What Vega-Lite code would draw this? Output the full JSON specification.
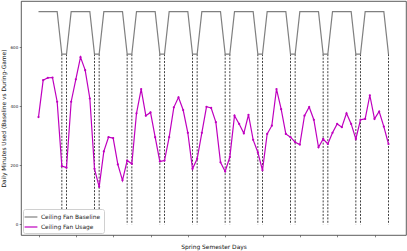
{
  "$schema": "https://vega.github.io/schema/vega-lite/v6.json",
  "width": 385,
  "height": 234,
  "autosize": {"type": "none"},
  "padding": {"left": 21, "top": 1, "right": 1, "bottom": 16},
  "config": {
    "font": "DejaVu Sans",
    "view": {"stroke": "#333", "strokeWidth": 0.8},
    "axis": {"domain": false, "grid": false, "tickColor": "#333", "tickSize": 1.8, "tickWidth": 0.6, "labelColor": "#222", "titleColor": "#111", "titleFontWeight": "normal", "labelOverlap": false}
  },
  "data": {"values": [
    {"day": 0, "baseline": 720, "usage": 363, "weekend": false},
    {"day": 1, "baseline": 720, "usage": 488, "weekend": false},
    {"day": 2, "baseline": 720, "usage": 496, "weekend": false},
    {"day": 3, "baseline": 720, "usage": 497, "weekend": false},
    {"day": 4, "baseline": 720, "usage": 415, "weekend": false},
    {"day": 5, "baseline": 576, "usage": 197, "weekend": true},
    {"day": 6, "baseline": 576, "usage": 192, "weekend": true},
    {"day": 7, "baseline": 720, "usage": 415, "weekend": false},
    {"day": 8, "baseline": 720, "usage": 491, "weekend": false},
    {"day": 9, "baseline": 720, "usage": 566, "weekend": false},
    {"day": 10, "baseline": 720, "usage": 522, "weekend": false},
    {"day": 11, "baseline": 720, "usage": 426, "weekend": false},
    {"day": 12, "baseline": 576, "usage": 188, "weekend": true},
    {"day": 13, "baseline": 576, "usage": 127, "weekend": true},
    {"day": 14, "baseline": 720, "usage": 247, "weekend": false},
    {"day": 15, "baseline": 720, "usage": 295, "weekend": false},
    {"day": 16, "baseline": 720, "usage": 292, "weekend": false},
    {"day": 17, "baseline": 720, "usage": 203, "weekend": false},
    {"day": 18, "baseline": 720, "usage": 149, "weekend": false},
    {"day": 19, "baseline": 576, "usage": 216, "weekend": true},
    {"day": 20, "baseline": 576, "usage": 205, "weekend": true},
    {"day": 21, "baseline": 720, "usage": 376, "weekend": false},
    {"day": 22, "baseline": 720, "usage": 458, "weekend": false},
    {"day": 23, "baseline": 720, "usage": 368, "weekend": false},
    {"day": 24, "baseline": 720, "usage": 379, "weekend": false},
    {"day": 25, "baseline": 720, "usage": 295, "weekend": false},
    {"day": 26, "baseline": 576, "usage": 213, "weekend": true},
    {"day": 27, "baseline": 576, "usage": 216, "weekend": true},
    {"day": 28, "baseline": 720, "usage": 295, "weekend": false},
    {"day": 29, "baseline": 720, "usage": 396, "weekend": false},
    {"day": 30, "baseline": 720, "usage": 430, "weekend": false},
    {"day": 31, "baseline": 720, "usage": 387, "weekend": false},
    {"day": 32, "baseline": 720, "usage": 310, "weekend": false},
    {"day": 33, "baseline": 576, "usage": 188, "weekend": true},
    {"day": 34, "baseline": 576, "usage": 222, "weekend": true},
    {"day": 35, "baseline": 720, "usage": 310, "weekend": false},
    {"day": 36, "baseline": 720, "usage": 398, "weekend": false},
    {"day": 37, "baseline": 720, "usage": 394, "weekend": false},
    {"day": 38, "baseline": 720, "usage": 346, "weekend": false},
    {"day": 39, "baseline": 720, "usage": 210, "weekend": false},
    {"day": 40, "baseline": 576, "usage": 179, "weekend": true},
    {"day": 41, "baseline": 576, "usage": 228, "weekend": true},
    {"day": 42, "baseline": 720, "usage": 368, "weekend": false},
    {"day": 43, "baseline": 720, "usage": 340, "weekend": false},
    {"day": 44, "baseline": 720, "usage": 308, "weekend": false},
    {"day": 45, "baseline": 720, "usage": 371, "weekend": false},
    {"day": 46, "baseline": 720, "usage": 286, "weekend": false},
    {"day": 47, "baseline": 576, "usage": 244, "weekend": true},
    {"day": 48, "baseline": 576, "usage": 183, "weekend": true},
    {"day": 49, "baseline": 720, "usage": 306, "weekend": false},
    {"day": 50, "baseline": 720, "usage": 334, "weekend": false},
    {"day": 51, "baseline": 720, "usage": 458, "weekend": false},
    {"day": 52, "baseline": 720, "usage": 390, "weekend": false},
    {"day": 53, "baseline": 720, "usage": 306, "weekend": false},
    {"day": 54, "baseline": 576, "usage": 295, "weekend": true},
    {"day": 55, "baseline": 576, "usage": 278, "weekend": true},
    {"day": 56, "baseline": 720, "usage": 270, "weekend": false},
    {"day": 57, "baseline": 720, "usage": 368, "weekend": false},
    {"day": 58, "baseline": 720, "usage": 397, "weekend": false},
    {"day": 59, "baseline": 720, "usage": 354, "weekend": false},
    {"day": 60, "baseline": 720, "usage": 261, "weekend": false},
    {"day": 61, "baseline": 576, "usage": 289, "weekend": true},
    {"day": 62, "baseline": 576, "usage": 272, "weekend": true},
    {"day": 63, "baseline": 720, "usage": 310, "weekend": false},
    {"day": 64, "baseline": 720, "usage": 340, "weekend": false},
    {"day": 65, "baseline": 720, "usage": 329, "weekend": false},
    {"day": 66, "baseline": 720, "usage": 376, "weekend": false},
    {"day": 67, "baseline": 720, "usage": 340, "weekend": false},
    {"day": 68, "baseline": 576, "usage": 289, "weekend": true},
    {"day": 69, "baseline": 576, "usage": 354, "weekend": true},
    {"day": 70, "baseline": 720, "usage": 357, "weekend": false},
    {"day": 71, "baseline": 720, "usage": 437, "weekend": false},
    {"day": 72, "baseline": 720, "usage": 357, "weekend": false},
    {"day": 73, "baseline": 720, "usage": 382, "weekend": false},
    {"day": 74, "baseline": 720, "usage": 331, "weekend": false},
    {"day": 75, "baseline": 576, "usage": 272, "weekend": true}
  ]},
  "layer": [
    {
      "transform": [{"filter": "datum.weekend"}],
      "mark": {"type": "rule", "color": "#111", "strokeWidth": 0.8, "strokeDash": [2, 1.4]},
      "encoding": {
        "x": {
          "field": "day", "type": "quantitative",
          "scale": {"domain": [-3.75, 78.75], "nice": false, "zero": false},
          "axis": {
            "title": "Spring Semester Days", "titleFontSize": 5.9, "titlePadding": 6,
            "labels": false,
            "values": [0,1,2,3,4,5,6,7,8,9,10,11,12,13,14,15,16,17,18,19,20,21,22,23,24,25,26,27,28,29,30,31,32,33,34,35,36,37,38,39,40,41,42,43,44,45,46,47,48,49,50,51,52,53,54,55,56,57,58,59,60,61,62,63,64,65,66,67,68,69,70,71,72,73,74,75]
          }
        },
        "y": {"field": "baseline", "type": "quantitative",
          "scale": {"domain": [-36, 756], "nice": false, "zero": false},
          "axis": {
            "title": "Daily Minutes Used (Baseline vs During-Game)", "titleFontSize": 5.9, "titlePadding": 4,
            "values": [0, 100, 200, 300, 400, 500, 600, 700], "labelFontSize": 4, "labelPadding": 1.5
          }
        },
        "y2": {"datum": 0}
      }
    },
    {
      "mark": {"type": "line", "strokeWidth": 1.2},
      "encoding": {
        "x": {"field": "day", "type": "quantitative"},
        "y": {"field": "baseline", "type": "quantitative"},
        "color": {
          "datum": "Ceiling Fan Baseline",
          "type": "nominal",
          "scale": {"domain": ["Ceiling Fan Baseline", "Ceiling Fan Usage"], "range": ["#808080", "#bf00bf"]},
          "legend": {
            "title": null, "orient": "bottom-left", "offset": 2,
            "symbolType": "M-1.6,0H1.6", "symbolSize": 64, "symbolStrokeWidth": 1.2,
            "labelFontSize": 5.9, "labelColor": "#222", "labelOffset": 5, "rowPadding": 2, "padding": 3,
            "fillColor": "white", "strokeColor": "#d0d0d0", "cornerRadius": 2
          }
        }
      }
    },
    {
      "mark": {"type": "line", "strokeWidth": 1.2, "point": {"filled": true, "size": 5}},
      "encoding": {
        "x": {"field": "day", "type": "quantitative"},
        "y": {"field": "usage", "type": "quantitative"},
        "color": {"datum": "Ceiling Fan Usage", "type": "nominal"}
      }
    }
  ]
}
